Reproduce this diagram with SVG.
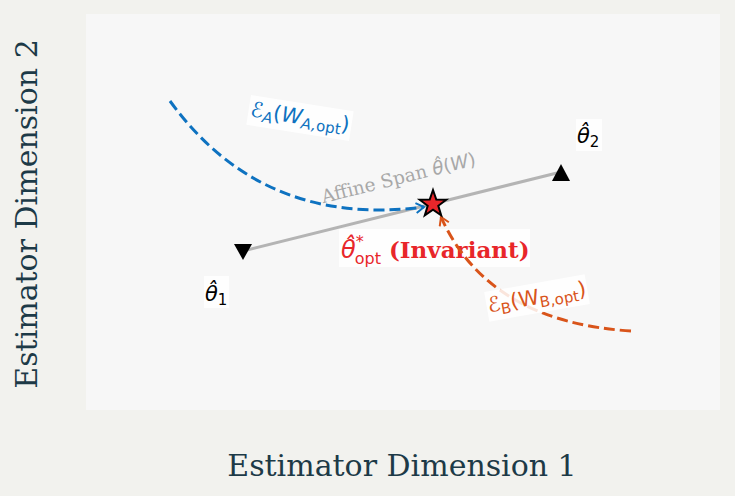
<svg xmlns="http://www.w3.org/2000/svg" width="735" height="496" viewBox="0 0 735 496">
<defs>
<style>
.axis{font-family:"DejaVu Serif","Liberation Serif",serif;font-size:30px;fill:#1d3a47;text-anchor:middle}
.math{font-family:"DejaVu Sans","Noto Sans",sans-serif}
.lbl{fill:#ffffff;opacity:0.85}
.curve{fill:none;stroke-width:3;stroke-dasharray:11 5}
.tri{fill:#000000}
</style>
<marker id="arrA" markerWidth="12" markerHeight="12" refX="9" refY="6" orient="auto" markerUnits="userSpaceOnUse">
<path d="M1,1 L9,6 L1,11" fill="none" stroke="#0e72c0" stroke-width="2"/>
</marker>
<marker id="arrB" markerWidth="12" markerHeight="12" refX="9" refY="6" orient="auto" markerUnits="userSpaceOnUse">
<path d="M1,1 L9,6 L1,11" fill="none" stroke="#d9541a" stroke-width="2"/>
</marker>
</defs>
<rect width="735" height="496" fill="#f2f2ee"/>
<rect x="86" y="14" width="634" height="396" fill="#f7f7f7"/>

<text class="axis" x="402" y="476">Estimator Dimension 1</text>
<text class="axis" transform="translate(37,214) rotate(-90)">Estimator Dimension 2</text>

<g id="optimum-label">
<rect class="lbl" x="339" y="229" width="191" height="38"/>
<text x="341" y="258" fill="#e8262a"><tspan class="math" font-size="24" font-style="italic">θ̂</tspan><tspan class="math" font-size="16" dy="-11">*</tspan><tspan class="math" font-size="16" dx="-9" dy="17">opt</tspan><tspan font-family="DejaVu Serif,serif" font-weight="bold" font-size="23" dy="-6"> (Invariant)</tspan></text>
</g>

<g id="connectors">
<line id="span-line" x1="243" y1="251" x2="561" y2="172" stroke="#b4b4b4" stroke-width="3"/>
<path id="curve-a" class="curve" d="M170,101 Q262,228 424,207" stroke="#0e72c0" marker-end="url(#arrA)"/>
<path id="curve-b" class="curve" d="M631,331 Q488,322 441,217" stroke="#d9541a" marker-end="url(#arrB)"/>
</g>

<g id="span-label">
<text transform="translate(400,184) rotate(-14)" text-anchor="middle" font-size="18.5" fill="#a8a8a8"><tspan font-family="DejaVu Serif,serif">Affine Span </tspan><tspan class="math" font-style="italic">θ̂</tspan><tspan class="math">(</tspan><tspan class="math" font-style="italic">W</tspan><tspan class="math">)</tspan></text>
</g>

<g id="theta1">
<path class="tri" d="M234,244 L252,244 L243,260 Z"/>
<rect class="lbl" x="204" y="276" width="25" height="32"/>
<text class="math" x="205" y="301" font-size="21" font-style="italic" fill="#000">θ̂<tspan font-style="normal" font-size="15" dy="4">1</tspan></text>
</g>

<g id="theta2">
<path class="tri" d="M561,164 L570,181 L552,181 Z"/>
<rect class="lbl" x="576" y="119" width="26" height="32"/>
<text class="math" x="577" y="143" font-size="21" font-style="italic" fill="#000">θ̂<tspan font-style="normal" font-size="15" dy="4">2</tspan></text>
</g>

<g id="optimum">
<path d="M433,190 L436.3,199.5 L446.3,199.7 L438.3,205.8 L441.2,215.4 L433,209.7 L424.8,215.4 L427.7,205.8 L419.7,199.7 L429.7,199.5 Z" fill="#e8262a" stroke="#000" stroke-width="2" stroke-linejoin="miter"/>
</g>

<g id="label-a">
<g transform="translate(300,118) rotate(9)">
<rect class="lbl" x="-52" y="-15" width="104" height="30"/>
<text class="math" x="0" y="6" text-anchor="middle" font-size="21" font-style="italic" fill="#0e72c0">ℰ<tspan font-size="15" dy="4">A</tspan><tspan font-style="normal" dy="-4">(</tspan>W<tspan font-size="15" dy="4">A,</tspan><tspan font-size="15" font-style="normal">opt</tspan><tspan font-style="normal" dy="-4">)</tspan></text>
</g>
</g>

<g id="label-b">
<g transform="translate(537,298) rotate(-10)">
<rect class="lbl" x="-51" y="-15" width="102" height="30"/>
<text class="math" x="0" y="6" text-anchor="middle" font-size="21" fill="#d9541a"><tspan font-style="italic">ℰ</tspan><tspan font-size="15" dy="4">B</tspan><tspan dy="-4">(W</tspan><tspan font-size="15" dy="4">B,opt</tspan><tspan dy="-4">)</tspan></text>
</g>
</g>
</svg>
